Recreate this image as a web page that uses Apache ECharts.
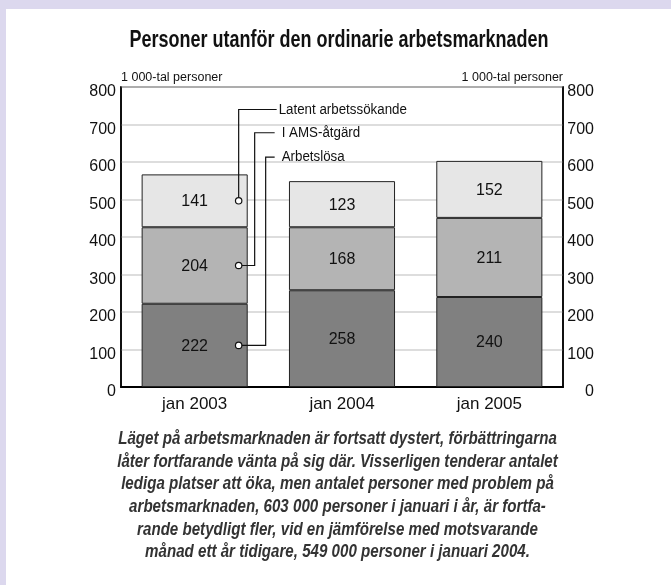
<!DOCTYPE html>
<html>
<head>
<meta charset="utf-8">
<script src="https://cdn.jsdelivr.net/npm/echarts@6/dist/echarts.min.js"></script>
<style>
html,body{margin:0;padding:0;background:#dcd8ee;}
#panel{position:absolute;left:6px;top:9px;width:665px;height:576px;background:#fff;}
#chart{position:absolute;left:0;top:0;width:671px;height:585px;}
</style>
</head>
<body>
<div id="panel"></div>
<div id="chart"></div>
<script>
const categories = ['jan 2003', 'jan 2004', 'jan 2005'];
const arbetslosa = [222, 258, 240];
const amsAtgard = [204, 168, 211];
const latent = [141, 123, 152];
const seriesNames = ['Arbetslösa', 'I AMS-åtgärd', 'Latent arbetssökande'];
const yTicks = [0, 100, 200, 300, 400, 500, 600, 700, 800];
const axisTitle = '1 000-tal personer';
const chartTitle = 'Personer utanför den ordinarie arbetsmarknaden';
const captionLines = [
  'Läget på arbetsmarknaden är fortsatt dystert, förbättringarna',
  'låter fortfarande vänta på sig där. Visserligen tenderar antalet',
  'lediga platser att öka, men antalet personer med problem på',
  'arbetsmarknaden, 603 000 personer i januari i år, är fortfa-',
  'rande betydligt fler, vid en jämförelse med motsvarande',
  'månad ett år tidigare, 549 000 personer i januari 2004.'
];

const REG = '"Liberation Sans", Arial, sans-serif';

const chart = echarts.init(document.getElementById('chart'), null, {renderer: 'canvas'});

function barSeries(name, data, color) {
  return {
    name: name,
    type: 'bar',
    stack: 'total',
    data: data,
    barWidth: '72%',
    itemStyle: {color: color, borderColor: '#222', borderWidth: 1},
    label: {show: true, position: 'inside', fontFamily: REG, fontSize: 16, color: '#111', offset: [0, 1]},
    emphasis: {disabled: true}
  };
}

const yAxisCommon = {
  type: 'value',
  min: yTicks[0],
  max: yTicks[yTicks.length - 1],
  interval: 100,
  name: axisTitle,
  nameLocation: 'end',
  nameGap: 3,
  axisTick: {show: false},
  axisLine: {show: true, lineStyle: {color: '#000', width: 1.5}},
  splitLine: {show: true, lineStyle: {color: '#d2d2d2', width: 1.5}}
};

chart.setOption({
  animation: false,
  grid: {left: 121, right: 108, top: 87, bottom: 198, show: true, borderColor: '#000', borderWidth: 1.5, backgroundColor: 'transparent'},
  xAxis: {
    type: 'category',
    data: categories,
    axisTick: {show: false},
    axisLine: {lineStyle: {color: '#000', width: 2}},
    axisLabel: {fontFamily: REG, fontSize: 17, color: '#111', margin: 9}
  },
  yAxis: [
    Object.assign({}, yAxisCommon, {
      position: 'left',
      nameTextStyle: {fontFamily: REG, fontSize: 12.5, color: '#111', align: 'left'},
      axisLabel: {fontFamily: REG, fontSize: 16, color: '#111', margin: 5, verticalAlign: 'top', lineHeight: 10}
    }),
    Object.assign({}, yAxisCommon, {
      position: 'right',
      nameTextStyle: {fontFamily: REG, fontSize: 12.5, color: '#111', align: 'right'},
      splitLine: {show: false},
      axisLabel: {fontFamily: REG, fontSize: 16, color: '#111', margin: 31, align: 'right', verticalAlign: 'top', lineHeight: 10}
    })
  ],
  series: [
    barSeries(seriesNames[0], arbetslosa, '#808080'),
    barSeries(seriesNames[1], amsAtgard, '#b4b4b4'),
    barSeries(seriesNames[2], latent, '#e6e6e6')
  ]
});

// Title, caption and leader-line annotations
function drawGraphics() {
  const elements = [];
  elements.push({
    type: 'text', silent: true, x: 339, y: 40, scaleX: 0.75,
    style: {text: chartTitle, fontFamily: REG, fontWeight: 'bold', fontSize: 24, fill: '#111', align: 'center', verticalAlign: 'middle'}
  });
  elements.push({
    type: 'text', silent: true, x: 337.5, y: 428, scaleX: 0.84,
    style: {text: captionLines.join('\n'), fontFamily: REG, fontWeight: 'bold', fontStyle: 'italic', fontSize: 18, lineHeight: 22.6, fill: '#333', align: 'center', verticalAlign: 'top'}
  });

  const cat = categories[0];
  const mids = [
    arbetslosa[0] / 2,
    arbetslosa[0] + amsAtgard[0] / 2,
    arbetslosa[0] + amsAtgard[0] + latent[0] / 2
  ];
  const labelLevels = [613, 678, 740];   // value level of each label line
  const xOffsets = [71, 60, 44];         // pixel offset of each vertical leader from bar centre
  const center = chart.convertToPixel({xAxisIndex: 0, yAxisIndex: 0}, [cat, 0])[0];
  const circleX = center + 44;
  for (let i = 0; i < 3; i++) {
    const yMid = chart.convertToPixel({yAxisIndex: 0}, mids[i]);
    const yLab = chart.convertToPixel({yAxisIndex: 0}, labelLevels[i]);
    const vx = center + xOffsets[i];
    const endX = center + (i === 2 ? 82 : 80);
    elements.push({
      type: 'polyline', silent: true,
      shape: {points: [[circleX, yMid], [vx, yMid], [vx, yLab], [endX, yLab]]},
      style: {stroke: '#111', lineWidth: 1.2, fill: null}, z: 10
    });
    elements.push({
      type: 'circle', silent: true,
      shape: {cx: circleX, cy: yMid, r: 3.2},
      style: {fill: '#fff', stroke: '#111', lineWidth: 1.2}, z: 11
    });
    elements.push({
      type: 'text', silent: true,
      x: endX + (i === 2 ? 2 : 7), y: yLab, scaleX: 0.86,
      style: {text: seriesNames[i], fontFamily: REG, fontSize: 15.5, fill: '#111', verticalAlign: 'middle', align: 'left'},
      z: 11
    });
  }
  chart.setOption({graphic: elements});
}
drawGraphics();
</script>
</body>
</html>
